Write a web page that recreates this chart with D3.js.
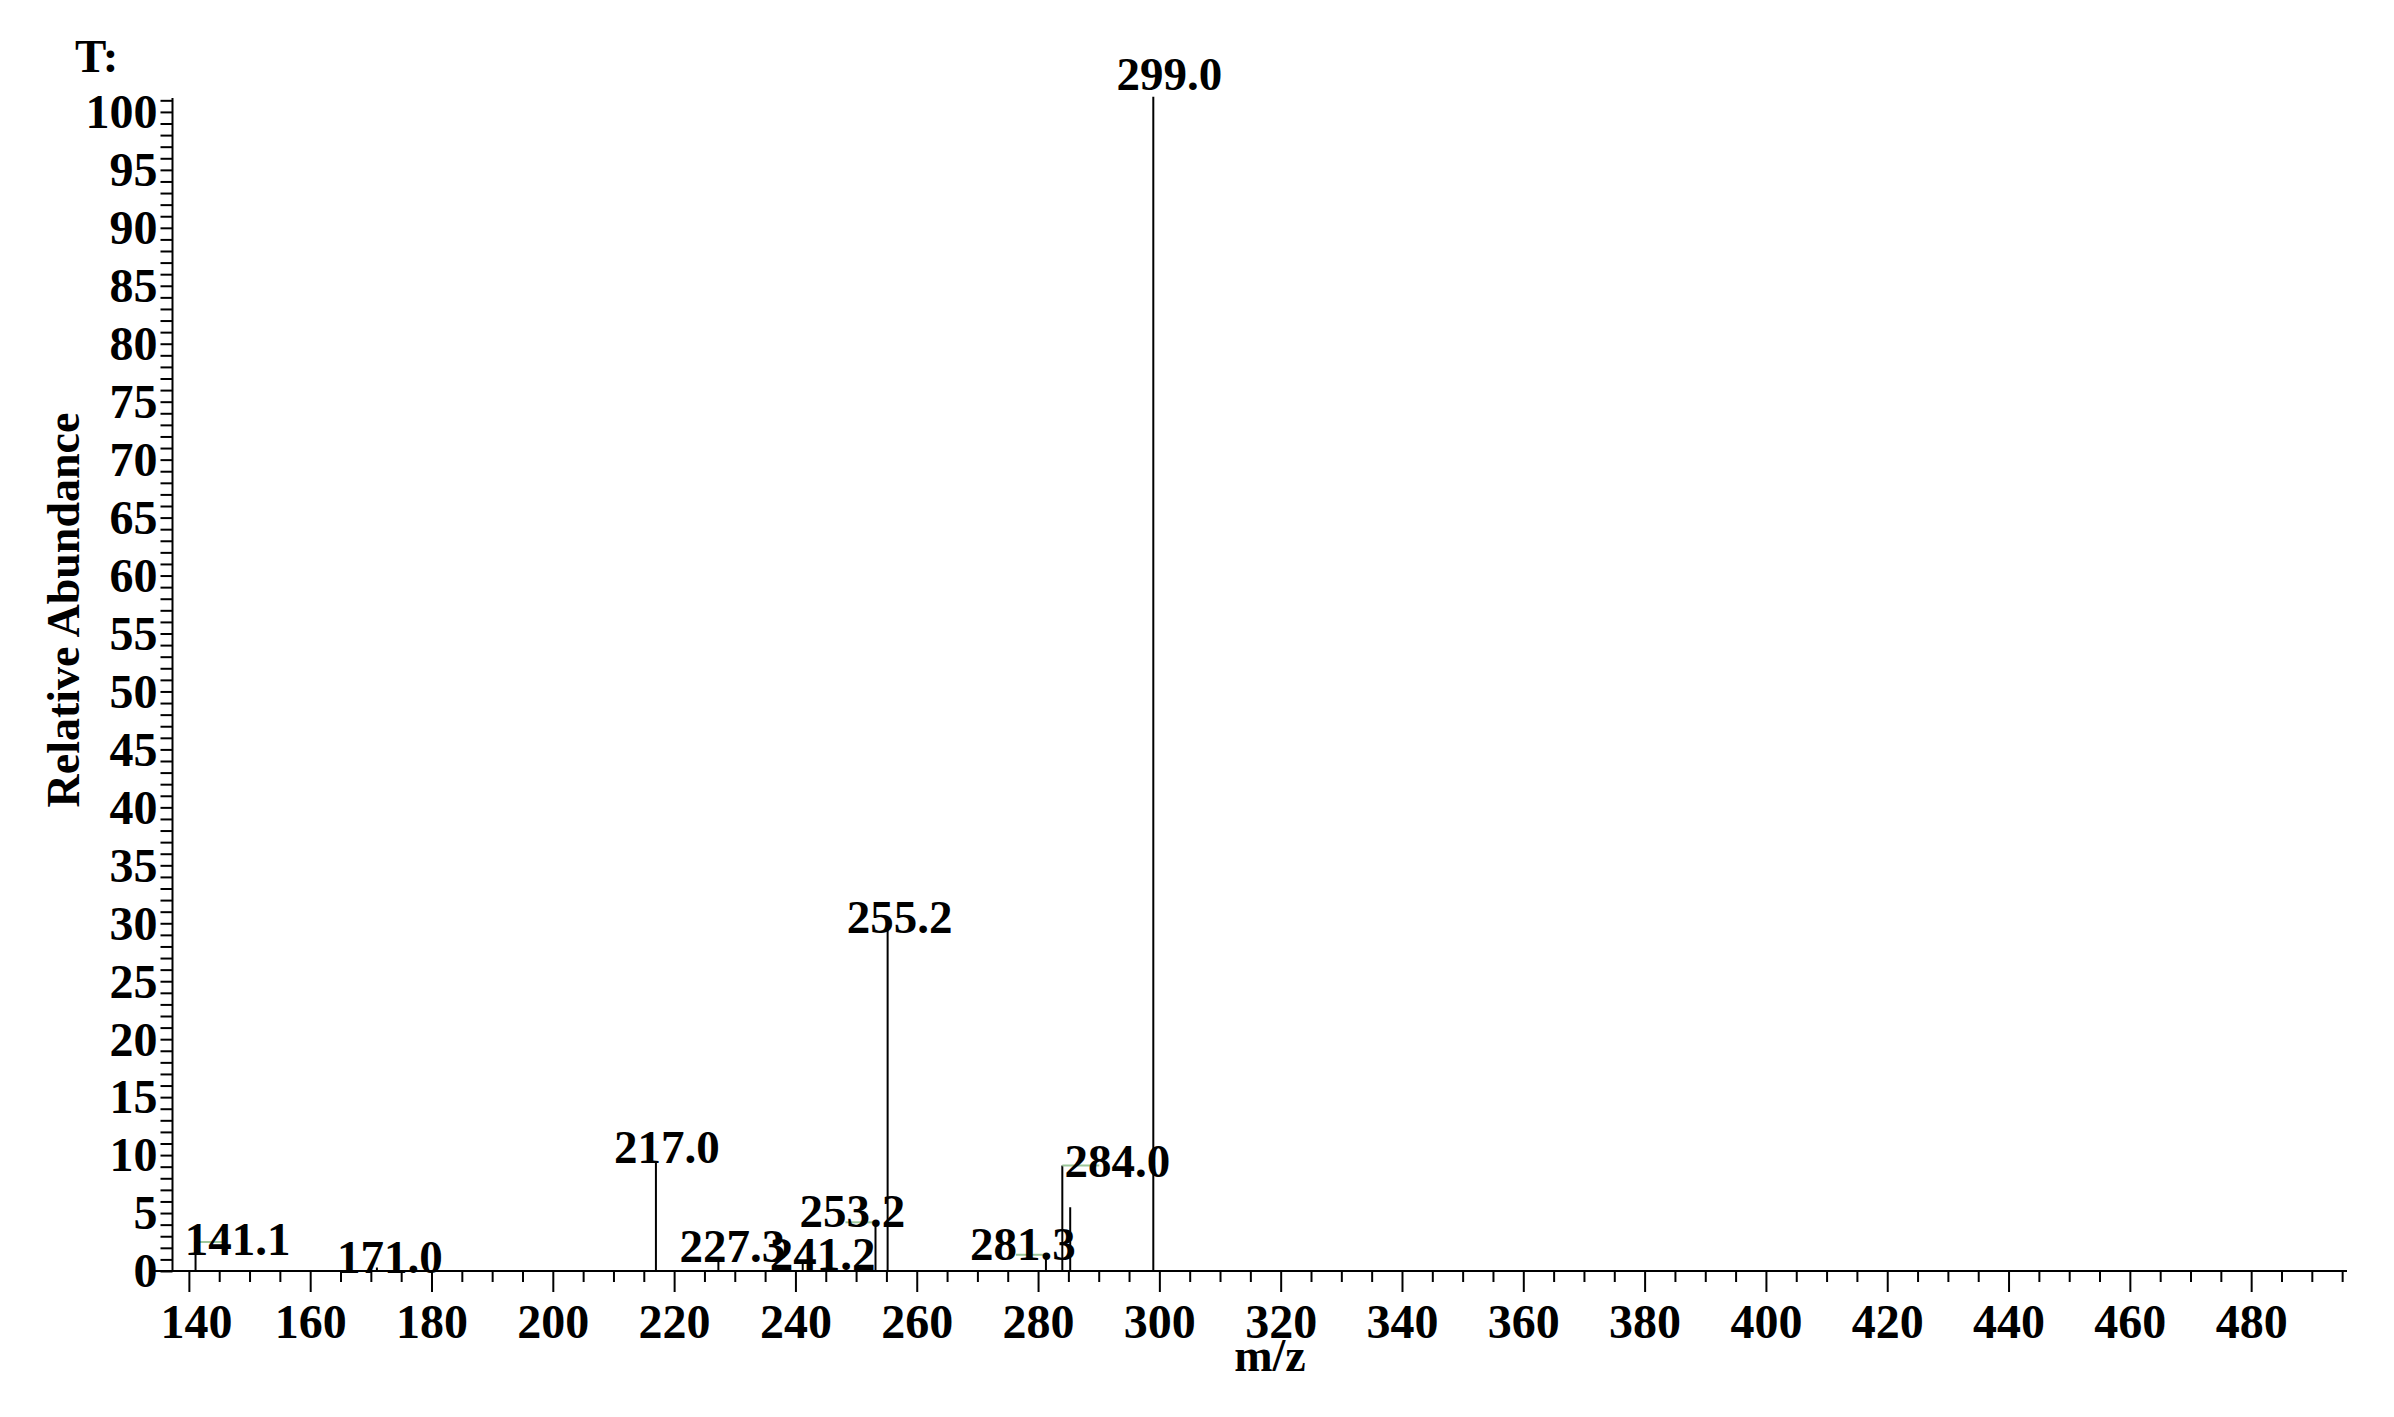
<!DOCTYPE html>
<html>
<head>
<meta charset="utf-8">
<script src="https://cdn.jsdelivr.net/npm/d3@7"></script>
<style>
  body { margin: 0; background: #fff; }
  text { font-family: "Liberation Serif", "Times New Roman", serif; font-weight: bold; fill: #000; }
</style>
</head>
<body>
<div id="spectrum"></div>
<script>
// mass spectrum, stick plot

var w = 2394;
var h = 1417;

// peaks
var mzValues = [141.1, 171.0, 217.0, 227.3, 241.2, 253.2, 255.2, 281.3, 284.0, 285.3, 299.0];
var abundances = [2.5, 0.3, 9.4, 1.2, 0.8, 4.2, 29.7, 1.4, 9.1, 5.5, 101.3];
var peakLabels = ["141.1", "171.0", "217.0", "227.3", "241.2", "253.2", "255.2", "281.3", "284.0", "", "299.0"];

// axis ticks
var xTickLabels = [140, 160, 180, 200, 220, 240, 260, 280, 300, 320, 340, 360, 380, 400, 420, 440, 460, 480];
var yTickLabels = [0, 5, 10, 15, 20, 25, 30, 35, 40, 45, 50, 55, 60, 65, 70, 75, 80, 85, 90, 95, 100];

// label placement (px nudges from the stick top), and the green leader marks
var labelDx = [42, 13, 11, 14, 20, -23, 12, -23, 55, 0, 16];
var labelDy = [13, 5, 1, 5, 8, 5, 6, 5, 11, 0, -7];
var leaderDx = [28, 0, 0, 0, 0, -30, 0, -30, 37, 0, 0];

var peaks = mzValues.map(function (mz, i) {
  return {mz: mz, ab: abundances[i], label: peakLabels[i], dx: labelDx[i], dy: labelDy[i], lead: leaderDx[i]};
});

var svg = d3.select("#spectrum")
            .append("svg")
            .attr("width", w)
            .attr("height", h);

svg.append("rect")
   .attr("width", w)
   .attr("height", h)
   .attr("fill", "#fff");

var x = d3.scaleLinear()
          .domain([137.3, 495.8])
          .range([172.5, 2347]);

var y = d3.scaleLinear()
          .domain([0, 101.2])
          .range([1271, 98]);

// y axis: minor tick every 1, label every 5
var yAxis = d3.axisLeft(y)
              .tickValues(d3.range(0, 102, 1))
              .tickSize(12)
              .tickFormat(function (d) { return yTickLabels.indexOf(d) >= 0 ? d : ""; });

var gy = svg.append("g")
            .attr("transform", "translate(" + x.range()[0] + ",0)")
            .call(yAxis);

gy.select(".domain").remove();
gy.selectAll(".tick line").attr("stroke", "#000").attr("stroke-width", 2);
gy.selectAll(".tick text")
  .attr("x", -15)
  .attr("dy", "0.33em")
  .attr("font-size", 48)
  .attr("font-family", "Liberation Serif")
  .attr("font-weight", "bold");

// x axis: minor tick every 5, long tick + label every 20
var xAxis = d3.axisBottom(x)
              .tickValues(d3.range(140, 496, 5))
              .tickSize(11)
              .tickFormat(function (d) { return xTickLabels.indexOf(d) >= 0 ? d : ""; });

var gx = svg.append("g")
            .attr("transform", "translate(0," + y(0) + ")")
            .call(xAxis);

gx.select(".domain").remove();
gx.selectAll(".tick line")
  .attr("stroke", "#000")
  .attr("stroke-width", 2)
  .attr("y2", function (d) { return xTickLabels.indexOf(d) >= 0 ? 21 : 11; });
gx.selectAll(".tick text")
  .attr("x", function (d) { return d === 140 ? 7 : 0; })
  .attr("y", 67)
  .attr("dy", 0)
  .attr("font-size", 48)
  .attr("font-family", "Liberation Serif")
  .attr("font-weight", "bold");

// axis lines
svg.append("line")
   .attr("x1", x.range()[0]).attr("x2", x.range()[0])
   .attr("y1", y(0)).attr("y2", y.range()[1])
   .attr("stroke", "#000").attr("stroke-width", 2);

svg.append("line")
   .attr("x1", x.range()[0] - 19).attr("x2", x.range()[1])
   .attr("y1", y(0)).attr("y2", y(0))
   .attr("stroke", "#000").attr("stroke-width", 2);

// sticks
svg.append("g")
   .selectAll("line")
   .data(peaks)
   .enter()
   .append("line")
   .attr("x1", function (d) { return x(d.mz); })
   .attr("x2", function (d) { return x(d.mz); })
   .attr("y1", y(0))
   .attr("y2", function (d) { return y(d.ab); })
   .attr("stroke", "#000")
   .attr("stroke-width", 2);

// faint green leader marks next to some labels
svg.append("g")
   .selectAll("line")
   .data(peaks.filter(function (d) { return d.lead !== 0; }))
   .enter()
   .append("line")
   .attr("x1", function (d) { return x(d.mz); })
   .attr("x2", function (d) { return x(d.mz) + d.lead; })
   .attr("y1", function (d) { return y(d.ab); })
   .attr("y2", function (d) { return y(d.ab); })
   .attr("stroke", "#9cc79a")
   .attr("stroke-width", 2);

// peak labels (they overlap in the original too)
svg.append("g")
   .selectAll("text")
   .data(peaks.filter(function (d) { return d.label !== ""; }))
   .enter()
   .append("text")
   .attr("x", function (d) { return x(d.mz) + d.dx; })
   .attr("y", function (d) { return y(d.ab) + d.dy; })
   .attr("text-anchor", "middle")
   .attr("font-size", 47)
   .text(function (d) { return d.label; });

// titles
svg.append("text")
   .attr("x", 75)
   .attr("y", 72)
   .attr("font-size", 47)
   .text("T:");

svg.append("text")
   .attr("transform", "translate(79,610) rotate(-90)")
   .attr("text-anchor", "middle")
   .attr("font-size", 46)
   .text("Relative Abundance");

svg.append("text")
   .attr("x", 1270)
   .attr("y", 1371)
   .attr("text-anchor", "middle")
   .attr("font-size", 46)
   .text("m/z");
</script>
</body>
</html>
